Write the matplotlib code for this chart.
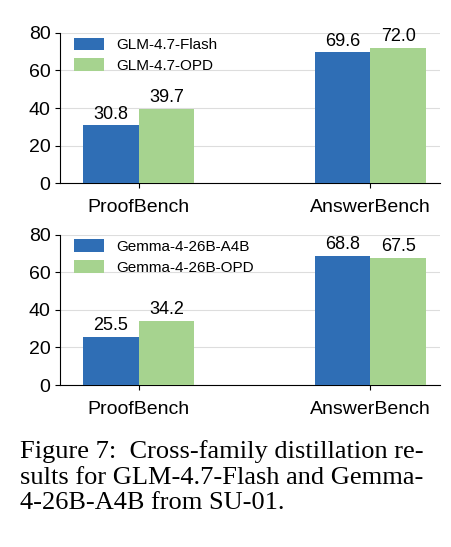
import matplotlib.pyplot as plt
import numpy as np

plt.rcParams['font.family'] = ['Liberation Sans', 'DejaVu Sans']

benchmarks = ['ProofBench', 'AnswerBench']
top_labels = ['GLM-4.7-Flash', 'GLM-4.7-OPD']
top_base = [30.8, 69.6]
top_opd = [39.7, 72.0]
bot_labels = ['Gemma-4-26B-A4B', 'Gemma-4-26B-OPD']
bot_base = [25.5, 68.8]
bot_opd = [34.2, 67.5]

blue = '#2f6eb5'
green = '#a6d38f'

fig = plt.figure(figsize=(4.52, 5.47), dpi=100)
ax1 = fig.add_axes([0.133, 0.665, 0.84, 0.275])
ax2 = fig.add_axes([0.133, 0.296, 0.84, 0.275])

x = np.arange(len(benchmarks))
w = 0.24


def panel(ax, base, opd, labels):
    b1 = ax.bar(x - w / 2, base, w, color=blue, label=labels[0], zorder=3)
    b2 = ax.bar(x + w / 2, opd, w, color=green, label=labels[1], zorder=3)
    for bars in (b1, b2):
        for r in bars:
            ax.text(r.get_x() + r.get_width() / 2, r.get_height() + 1.5, f'{r.get_height():.1f}',
                    ha='center', va='bottom', fontsize=13)
    ax.set_ylim(0, 80)
    ax.set_yticks([0, 20, 40, 60, 80])
    ax.set_xlim(-0.34, 1.3)
    ax.set_xticks(x)
    ax.set_xticklabels(benchmarks)
    ax.tick_params(labelsize=14)
    ax.tick_params(axis='x', pad=8)
    ax.grid(axis='y', color='#dddddd', lw=0.8, zorder=0)
    for s in ['top', 'right']:
        ax.spines[s].set_visible(False)
    ax.legend(loc='upper left', bbox_to_anchor=(0.0, 1.06), fontsize=11, frameon=False,
              handlelength=2.0, handleheight=0.9, labelspacing=0.4)


panel(ax1, top_base, top_opd, top_labels)
panel(ax2, bot_base, bot_opd, bot_labels)

fig.text(0.045, 0.195, 'Figure 7:  Cross-family distillation re-\nsults for GLM-4.7-Flash and Gemma-\n4-26B-A4B from SU-01.',
         family='Liberation Serif', fontsize=19, va='top', ha='left', linespacing=1.2)

fig.savefig('out.png', dpi=100)
